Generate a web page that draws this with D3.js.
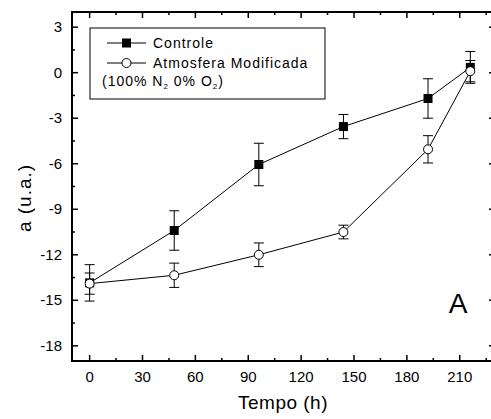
<!DOCTYPE html>
<html>
<head>
<meta charset="utf-8">
<script src="https://cdn.jsdelivr.net/npm/d3@7"></script>
<style>
  html, body { margin: 0; padding: 0; background: #fff; }
  svg { display: block; font-family: Arial, "Liberation Sans", sans-serif; }
</style>
</head>
<body>
<svg id="chart" width="491" height="419"></svg>
<script>
// Data
const tempo = [0, 48, 96, 144, 192, 216];
const controle = [-13.85, -10.4, -6.05, -3.55, -1.7, 0.35];
const controleErr = [1.2, 1.3, 1.4, 0.8, 1.3, 1.05];
const atmosfera = [-13.9, -13.35, -12.0, -10.5, -5.05, 0.1];
const atmosferaErr = [0.7, 0.8, 0.78, 0.45, 0.9, 0.7];
const xTicks = [0, 30, 60, 90, 120, 150, 180, 210];
const yTicks = [3, 0, -3, -6, -9, -12, -15, -18];

const svg = d3.select("#chart");

const x = d3.scaleLinear().domain([-10, 230]).range([72, 495]);
const y = d3.scaleLinear().domain([-19, 4]).range([361, 12]);

// frame
svg.append("rect")
    .attr("x", x(-10)).attr("y", y(4))
    .attr("width", x(230) - x(-10)).attr("height", y(-19) - y(4))
    .attr("fill", "none").attr("stroke", "#000").attr("stroke-width", 2);

const xMinor = d3.range(15, 230, 30);
const yMinor = d3.range(-16.5, 4, 3);

// ticks pointing inward on all four sides
const tk = svg.append("g").attr("stroke", "#000").attr("stroke-width", 1.5);
xTicks.forEach(v => {
    tk.append("line").attr("x1", x(v)).attr("x2", x(v)).attr("y1", y(-19)).attr("y2", y(-19) - 6);
    tk.append("line").attr("x1", x(v)).attr("x2", x(v)).attr("y1", y(4)).attr("y2", y(4) + 6);
});
xMinor.forEach(v => {
    tk.append("line").attr("x1", x(v)).attr("x2", x(v)).attr("y1", y(-19)).attr("y2", y(-19) - 3);
    tk.append("line").attr("x1", x(v)).attr("x2", x(v)).attr("y1", y(4)).attr("y2", y(4) + 3);
});
yTicks.forEach(v => {
    tk.append("line").attr("x1", x(-10)).attr("x2", x(-10) + 6).attr("y1", y(v)).attr("y2", y(v));
    tk.append("line").attr("x1", x(230)).attr("x2", x(230) - 6).attr("y1", y(v)).attr("y2", y(v));
});
yMinor.forEach(v => {
    tk.append("line").attr("x1", x(-10)).attr("x2", x(-10) + 3).attr("y1", y(v)).attr("y2", y(v));
    tk.append("line").attr("x1", x(230)).attr("x2", x(230) - 3).attr("y1", y(v)).attr("y2", y(v));
});

// tick labels
svg.append("g").selectAll("text").data(xTicks).join("text")
    .attr("x", d => x(d)).attr("y", 382)
    .attr("text-anchor", "middle").attr("font-size", 15)
    .text(d => d);
svg.append("g").selectAll("text").data(yTicks).join("text")
    .attr("x", 62).attr("y", d => y(d) + 5)
    .attr("text-anchor", "end").attr("font-size", 15)
    .text(d => d);

// axis titles
svg.append("text").attr("x", 283).attr("y", 409)
    .attr("text-anchor", "middle").attr("font-size", 19).attr("letter-spacing", 0.5)
    .text("Tempo (h)");
svg.append("text").attr("transform", "translate(31,198) rotate(-90)")
    .attr("text-anchor", "middle").attr("font-size", 19).attr("letter-spacing", 1)
    .text("a (u.a.)");

// panel letter
svg.append("text").attr("x", 458).attr("y", 313)
    .attr("text-anchor", "middle").attr("font-size", 28).text("A");

// series
const line = d3.line().x((d, i) => x(tempo[i])).y(d => y(d));

function drawErr(vals, errs) {
    const g = svg.append("g").attr("stroke", "#000").attr("stroke-width", 1);
    vals.forEach((v, i) => {
        const cx = x(tempo[i]);
        g.append("line").attr("x1", cx).attr("x2", cx).attr("y1", y(v - errs[i])).attr("y2", y(v + errs[i]));
        g.append("line").attr("x1", cx - 5).attr("x2", cx + 5).attr("y1", y(v - errs[i])).attr("y2", y(v - errs[i]));
        g.append("line").attr("x1", cx - 5).attr("x2", cx + 5).attr("y1", y(v + errs[i])).attr("y2", y(v + errs[i]));
    });
}

drawErr(controle, controleErr);
drawErr(atmosfera, atmosferaErr);

svg.append("path").datum(controle).attr("d", line)
    .attr("fill", "none").attr("stroke", "#000").attr("stroke-width", 1);
svg.append("path").datum(atmosfera).attr("d", line)
    .attr("fill", "none").attr("stroke", "#000").attr("stroke-width", 1);

svg.append("g").selectAll("rect").data(controle).join("rect")
    .attr("x", (d, i) => x(tempo[i]) - 4.5).attr("y", d => y(d) - 4.5)
    .attr("width", 9).attr("height", 9).attr("fill", "#000");
svg.append("g").selectAll("circle").data(atmosfera).join("circle")
    .attr("cx", (d, i) => x(tempo[i])).attr("cy", d => y(d)).attr("r", 4.5)
    .attr("fill", "#fff").attr("stroke", "#000").attr("stroke-width", 1);

// legend
const lg = svg.append("g").attr("font-size", 14).attr("letter-spacing", 1);
lg.append("rect").attr("x", 90).attr("y", 28).attr("width", 235).attr("height", 71)
    .attr("fill", "#fff").attr("stroke", "#000").attr("stroke-width", 1);
lg.append("line").attr("x1", 107).attr("x2", 146).attr("y1", 43).attr("y2", 43).attr("stroke", "#000");
lg.append("rect").attr("x", 122).attr("y", 38.5).attr("width", 9).attr("height", 9).attr("fill", "#000");
lg.append("line").attr("x1", 107).attr("x2", 146).attr("y1", 63).attr("y2", 63).attr("stroke", "#000");
lg.append("circle").attr("cx", 126.5).attr("cy", 63).attr("r", 4.5).attr("fill", "#fff").attr("stroke", "#000");
lg.append("text").attr("x", 153).attr("y", 48).text("Controle");
lg.append("text").attr("x", 153).attr("y", 68).text("Atmosfera Modificada");
const t3 = lg.append("text").attr("x", 102).attr("y", 86);
t3.append("tspan").text("(100% N");
t3.append("tspan").attr("font-size", 8).attr("dy", 3).text("2");
t3.append("tspan").attr("dy", -3).text(" 0% O");
t3.append("tspan").attr("font-size", 8).attr("dy", 3).text("2");
t3.append("tspan").attr("dy", -3).text(")");
</script>
</body>
</html>
